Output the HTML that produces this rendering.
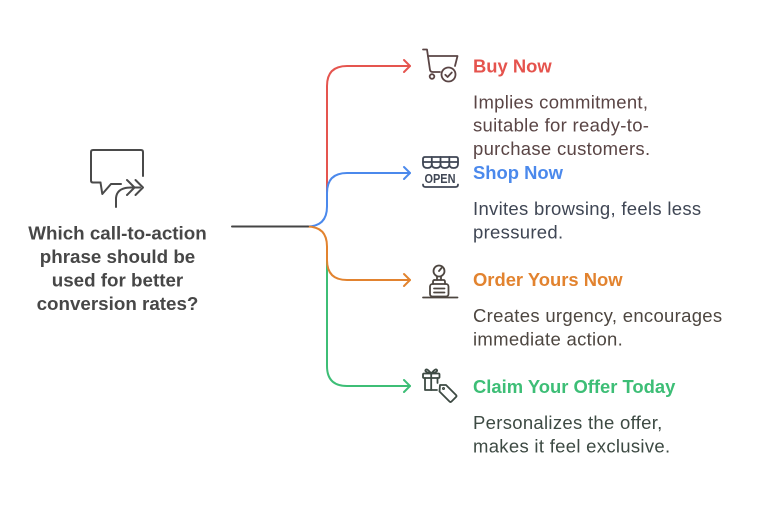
<!DOCTYPE html>
<html><head><meta charset="utf-8"><style>
html,body{margin:0;padding:0;background:#fff;}
svg{display:block;}
text{font-family:"Liberation Sans",Arial,sans-serif;}
</style></head><body>
<svg width="768" height="507" viewBox="0 0 768 507" xmlns="http://www.w3.org/2000/svg">
<rect width="768" height="507" fill="#fff"/>
<!-- connectors -->
<g fill="none" stroke-width="2" stroke-linecap="round" stroke-linejoin="round">
  <path d="M327,206 L327,86 Q327,66 347,66 L410,66" stroke="#E5554F"/>
  <path d="M404,60 L410,66 L404,72" stroke="#E5554F"/>
  <path d="M327,248 L327,366 Q327,386 347,386 L410,386" stroke="#3DBE76"/>
  <path d="M404,380 L410,386 L404,392" stroke="#3DBE76"/>
  <path d="M307,226.5 Q327,226.5 327,206.5 L327,193 Q327,173 347,173 L410,173" stroke="#4B89EC"/>
  <path d="M404,167 L410,173 L404,179" stroke="#4B89EC"/>
  <path d="M307,226.5 Q327,226.5 327,246.5 L327,260 Q327,280 347,280 L410,280" stroke="#E2832F"/>
  <path d="M404,274 L410,280 L404,286" stroke="#E2832F"/>
  <path d="M232,226.5 L308,226.5" stroke="#454545"/>
</g>
<!-- chat icon -->
<g fill="none" stroke="#4a4a4a" stroke-width="2" stroke-linecap="round" stroke-linejoin="round">
  <path d="M100.5,182.5 L93,182.5 Q91,182.5 91,180.5 L91,152 Q91,150 93,150 L141,150 Q143,150 143,152 L143,176"/>
  <path d="M100.5,182.5 L102.3,194 L111,184 L121,184"/>
  <path d="M116,207 L116,198 Q117,187.5 131,187.5 L140,187.5"/>
  <path d="M127,180 L134.5,187.5 L127,195"/>
  <path d="M135.5,180 L143,187.5 L135.5,195"/>
</g>
<!-- question text -->
<g font-size="18.8" font-weight="bold" fill="#474747" text-anchor="middle">
  <text x="117.5" y="239.3">Which call-to-action</text>
  <text x="117.5" y="262.8">phrase should be</text>
  <text x="117.5" y="286.3">used for better</text>
  <text x="117.5" y="309.8">conversion rates?</text>
</g>
<!-- cart icon -->
<g fill="none" stroke="#5a4545" stroke-width="1.8" stroke-linecap="round" stroke-linejoin="round">
  <path d="M423,49.5 L427,49.5 L430,70 Q430.5,72 433,72 L440,72"/>
  <path d="M428,56 L457.5,56 L455,66"/>
  <circle cx="432" cy="76.5" r="2.3"/>
  <circle cx="448.5" cy="74.5" r="7"/>
  <path d="M445.3,74.8 L447.6,77 L451.8,72.5"/>
</g>
<!-- open icon -->
<g fill="none" stroke="#3f4654" stroke-width="1.8" stroke-linecap="round" stroke-linejoin="round">
  <path d="M425,157 L456,157 Q458,157 458,159 L458,162 L423,162 L423,159 Q423,157 425,157 Z"/>
  <path d="M423,162 L423,164 Q423,168 427.4,168 Q431.8,168 431.8,164 Q431.8,168 436.2,168 Q440.5,168 440.5,164 Q440.5,168 444.9,168 Q449.3,168 449.3,164 Q449.3,168 453.6,168 Q458,168 458,164 L458,162"/>
  <path d="M431.8,157 L431.8,164 M440.5,157 L440.5,164 M449.3,157 L449.3,164"/>
  <path d="M423,184.5 Q423,187 425.5,187 L455.5,187 Q458,187 458,184.5"/>
</g>
<text x="424.5" y="183" font-size="12.5" font-weight="bold" fill="#3f4654" textLength="31" lengthAdjust="spacingAndGlyphs">OPEN</text>
<!-- order icon -->
<g fill="none" stroke="#4d4640" stroke-width="1.8" stroke-linecap="round" stroke-linejoin="round">
  <circle cx="439" cy="271" r="5.5"/>
  <path d="M439,271 L441.5,268"/>
  <path d="M437,276.5 L437,280 M441,276.5 L441,280"/>
  <path d="M434.5,280 L443.5,280 Q445,280 445,282 L445,284"/>
  <path d="M433,284 L433,282 Q433,280 434.5,280"/>
  <rect x="430" y="284" width="18.5" height="12.5" rx="2.5"/>
  <path d="M434,288.5 L444.5,288.5 M434,292.5 L444.5,292.5"/>
  <path d="M423,297.5 L457.5,297.5"/>
</g>
<!-- gift icon -->
<g fill="none" stroke="#3d4a43" stroke-width="1.8" stroke-linecap="round" stroke-linejoin="round">
  <rect x="423" y="373.5" width="16.5" height="4.5" rx="1"/>
  <path d="M425,378 L425,390 L437,390 M437.5,378 L437.5,383"/>
  <path d="M431.2,373.5 L431.2,390"/>
  <path d="M431.2,373.5 Q427,368 425.5,370 Q424.5,372 431.2,373.5 Q435.5,368 437,370 Q438,372 431.2,373.5"/>
  <path d="M440,385 L446,385 L456,395 Q457,396 456,397 L451.5,401.5 Q450.5,402.5 449.5,401.5 L439.5,391.5 L440,385 Z"/>
  <circle cx="443.5" cy="388.5" r="0.6"/>
</g>
<!-- titles -->
<g font-size="18.4" font-weight="bold">
  <text x="473" y="72.3" fill="#E5534D">Buy Now</text>
  <text x="473" y="179" fill="#4B89EC">Shop Now</text>
  <text x="473" y="286" fill="#E2832F">Order Yours Now</text>
  <text x="473" y="393" fill="#3DBE76">Claim Your Offer Today</text>
</g>
<!-- descriptions -->
<g font-size="18.5" letter-spacing="0.3">
  <g fill="#5a4545">
    <text x="473" y="108.3">Implies commitment,</text>
    <text x="473" y="131.7">suitable for ready-to-</text>
    <text x="473" y="155.1">purchase customers.</text>
  </g>
  <g fill="#3f4654">
    <text x="473" y="215">Invites browsing, feels less</text>
    <text x="473" y="238.4">pressured.</text>
  </g>
  <g fill="#4d4640">
    <text x="473" y="322">Creates urgency, encourages</text>
    <text x="473" y="345.4">immediate action.</text>
  </g>
  <g fill="#3d4a43">
    <text x="473" y="429">Personalizes the offer,</text>
    <text x="473" y="452.4">makes it feel exclusive.</text>
  </g>
</g>
</svg>
</body></html>
